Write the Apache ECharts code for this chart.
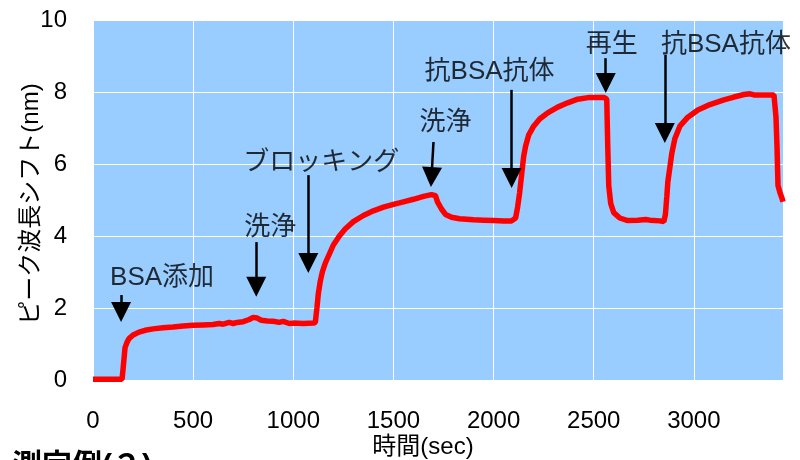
<!DOCTYPE html>
<html><head><meta charset="utf-8">
<script src="https://cdn.jsdelivr.net/npm/echarts@6/dist/echarts.min.js"></script>
<style>html,body{margin:0;padding:0;background:#fff;}#c{width:800px;height:460px;}</style>
</head><body><div id="c"></div>
<script>
const FONT = '"Liberation Sans", Arial, "Noto Sans CJK JP", sans-serif';
const xTicks = [0, 500, 1000, 1500, 2000, 2500, 3000];
const yTicks = [0, 2, 4, 6, 8, 10];
const xName = '時間(sec)';
const yName = 'ピーク波長シフト(nm)';
const footText = '測定例(２)';
const shiftData = [
 [0,0.02],[50,0.02],[100,0.02],[145,0.02],[150,0.3],[155,0.6],[160,0.9],[170,1.05],[180,1.15],[200,1.25],
 [230,1.33],[260,1.38],[300,1.42],[350,1.45],[400,1.47],[450,1.5],[500,1.52],[550,1.53],[600,1.54],[630,1.57],
 [650,1.55],[680,1.6],[700,1.57],[720,1.6],[750,1.62],[780,1.68],[800,1.74],[820,1.72],[840,1.66],[870,1.64],
 [900,1.63],[930,1.6],[950,1.63],[980,1.57],[1000,1.58],[1050,1.57],[1100,1.58],[1110,1.6],[1118,2.0],[1125,2.4],
 [1135,2.75],[1145,3.0],[1160,3.25],[1180,3.5],[1200,3.75],[1230,4.0],[1260,4.2],[1300,4.4],[1350,4.57],[1400,4.7],
 [1450,4.8],[1500,4.88],[1550,4.95],[1600,5.02],[1650,5.1],[1690,5.15],[1710,5.12],[1720,4.95],[1740,4.75],[1760,4.6],
 [1790,4.52],[1830,4.48],[1900,4.45],[1950,4.44],[2000,4.43],[2050,4.42],[2090,4.42],[2110,4.5],[2120,4.8],[2130,5.2],
 [2140,5.7],[2150,6.2],[2160,6.5],[2175,6.8],[2200,7.05],[2230,7.25],[2270,7.42],[2320,7.58],[2370,7.7],[2420,7.8],
 [2480,7.85],[2550,7.85],[2565,7.8],[2570,6.5],[2575,5.4],[2585,4.9],[2600,4.65],[2630,4.5],[2670,4.43],[2720,4.44],
 [2760,4.46],[2780,4.44],[2830,4.42],[2850,4.4],[2858,4.6],[2865,5.1],[2870,5.5],[2880,5.9],[2890,6.3],[2905,6.7],
 [2930,7.05],[2970,7.3],[3020,7.5],[3080,7.65],[3150,7.78],[3200,7.86],[3250,7.93],[3280,7.95],[3300,7.92],[3350,7.92],
 [3400,7.92],[3410,7.3],[3415,6.5],[3420,5.4],[3430,5.2],[3440,5.05],[3445,4.95]
];
// annotation labels: [x, y, text]
const noteLabels = [
 [345, 2.83, 'BSA添加'],
 [885, 4.22, '洗浄'],
 [1140, 6.03, 'ブロッキング'],
 [1760, 7.14, '洗浄'],
 [1980, 8.56, '抗BSA抗体'],
 [2590, 9.31, '再生'],
 [3160, 9.31, '抗BSA抗体']
];
// arrows: [xFrom, yFrom, xTo, yTo(tip)]
const noteArrows = [
 [140, 2.36, 140, 1.61],
 [815, 3.83, 815, 2.31],
 [1075, 5.69, 1075, 2.97],
 [1700, 6.61, 1690, 5.36],
 [2090, 8.06, 2090, 5.33],
 [2560, 8.94, 2560, 7.97],
 [2855, 9.03, 2855, 6.58]
];
const HEAD = 20;
const pxPerUnit = 36;
const chart = echarts.init(document.getElementById('c'), null, {renderer:'canvas'});
chart.setOption({
  animation:false,
  textStyle:{fontFamily:FONT},
  grid:{left:93,right:17,top:20,bottom:80,show:true,backgroundColor:'#99CCFF',borderWidth:0,
    containLabel:false,outerBoundsMode:'none'},
  xAxis:{type:'value',min:0,max:3445,interval:500,
    name:xName,nameLocation:'middle',nameGap:55,nameMoveOverlap:false,
    nameTextStyle:{fontSize:24,color:'#000',fontFamily:FONT,padding:[0,30,0,0]},
    axisLine:{show:false},axisTick:{show:false},
    axisLabel:{fontSize:24,color:'#000',margin:29,showMaxLabel:false,fontFamily:FONT,
      formatter:v=>String(v)},
    splitLine:{show:true,lineStyle:{color:'#fff',width:1}}},
  yAxis:{type:'value',min:0,max:10,interval:2,
    name:yName,nameLocation:'middle',nameGap:50,nameMoveOverlap:false,
    nameTextStyle:{fontSize:24,color:'#000',fontFamily:FONT,padding:[0,8,0,0]},
    axisLine:{show:false},axisTick:{show:false},
    axisLabel:{fontSize:24,color:'#000',margin:26,fontFamily:FONT,formatter:v=>String(v)},
    splitLine:{show:true,lineStyle:{color:'#fff',width:1}}},
  series:[
    {type:'line',data:shiftData,showSymbol:false,symbol:'none',
     lineStyle:{color:'#FF0000',width:5.5},z:3,
     markLine:{silent:true,symbol:['none','triangle'],symbolSize:HEAD,
       lineStyle:{color:'#000',width:2.5,type:'solid'},label:{show:false},
       data:noteArrows.map(a=>[{coord:[a[0],a[1]]},{coord:[a[2],a[3]+(HEAD/2)/pxPerUnit]}])}},
    {type:'scatter',data:noteLabels,symbolSize:0,silent:true,z:5,
     label:{show:true,position:'inside',formatter:p=>p.data[2],fontSize:26,color:'#000',
       textBorderWidth:0,fontFamily:FONT}}
  ],
  graphic:[{type:'text',left:12,top:452,style:{text:footText,font:'bold 30px '+FONT,fill:'#000'}}]
});
</script></body></html>
